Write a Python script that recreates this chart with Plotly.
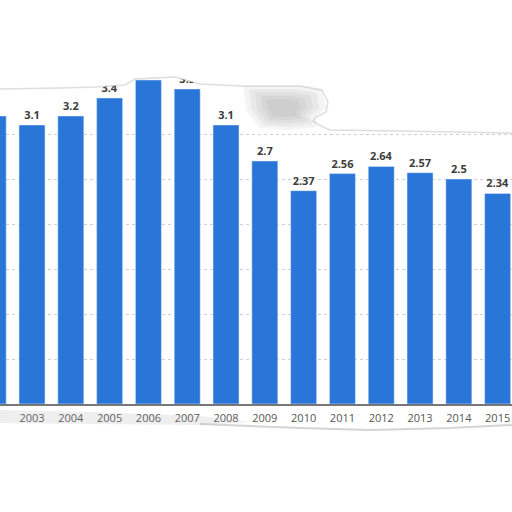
import plotly.graph_objects as go

years = list(range(2002, 2016))
values = [3.2, 3.1, 3.2, 3.4, 3.6, 3.5, 3.1, 2.7, 2.37, 2.56, 2.64, 2.57, 2.5, 2.34]
labels = ["3.2", "3.1", "3.2", "3.4", "3.6", "3.5", "3.1", "2.7", "2.37", "2.56", "2.64", "2.57", "2.5", "2.34"]
grid_vals = [0.5, 1.0, 1.5, 2.0, 2.5, 3.0]

W, H = 512, 512
B = 108
PH = H - B  # plot height in px


def px(x):
    return x / W


def py(y):
    return 1 - y / PH


def path(pts, close=True):
    s = "M " + " L ".join(f"{px(a):.4f},{py(b):.4f}" for a, b in pts)
    return s + (" Z" if close else "")


fig = go.Figure(go.Bar(
    x=years, y=values, text=labels, textposition="outside",
    width=0.67, marker_color="#2a76d8",
    textfont=dict(family="Open Sans, Arial", size=11, color="#3c3c3c", weight="bold"),
    cliponaxis=False,
))

# torn paper edge along the top
edge_left = [(0, 89), (60, 88), (95, 87), (125, 85), (135, 79), (175, 77),
             (200, 84), (243, 86), (300, 86), (322, 90), (328, 102), (326, 112),
             (316, 117), (313, 121), (321, 126), (330, 130), (400, 131), (512, 133)]
cover = [(0, -5)] + edge_left[:8] + [(246, 128)] + edge_left[14:] + [(512, -5)]
shapes = [
    dict(type="path", xref="paper", yref="paper", layer="above",
         path=path(cover), fillcolor="white", line=dict(width=0)),
    dict(type="path", xref="paper", yref="paper", layer="above",
         path=path(edge_left, close=False),
         line=dict(color="rgba(160,160,160,0.35)", width=1.5)),
]
# soft grey smudge, stacked to fake a blur
cx, cy = 283, 108
blob = [(243, 86), (300, 86), (322, 90), (326, 108), (314, 118), (318, 127),
        (290, 130), (260, 128), (246, 110)]
for s in [1.0, 0.85, 0.7, 0.55, 0.4]:
    pts = [(cx + (a - cx) * s, cy + (b - cy) * s) for a, b in blob]
    shapes.append(dict(type="path", xref="paper", yref="paper", layer="above",
                       path=path(pts), fillcolor="rgba(120,120,120,0.08)",
                       line=dict(width=0)))
shapes += [
    # bottom torn edge shadow
    dict(type="path", xref="paper", yref="paper", layer="above",
         path=path([(0, 410), (90, 412), (200, 416), (250, 422), (200, 425),
                    (90, 424), (0, 423)]),
         fillcolor="rgba(160,160,160,0.18)", line=dict(width=0)),
    dict(type="path", xref="paper", yref="paper", layer="above",
         path=path([(200, 424), (300, 428), (370, 430), (450, 428), (512, 425)], close=False),
         line=dict(color="rgba(150,150,150,0.4)", width=2)),
]

fig.update_layout(
    width=W, height=H,
    margin=dict(l=0, r=0, t=0, b=B),
    plot_bgcolor="white", paper_bgcolor="white",
    showlegend=False, shapes=shapes,
    xaxis=dict(range=[2002.175, 2015.37], tickmode="array", tickvals=years,
               ticktext=[str(y) for y in years], showgrid=False,
               showline=True, linecolor="#777", linewidth=1.5,
               tickfont=dict(family="Open Sans, Arial", size=11, color="#555"),
               ticks="outside", ticklen=3, tickcolor="rgba(0,0,0,0)"),
    yaxis=dict(range=[0, PH / 90], tickmode="array", tickvals=grid_vals,
               showgrid=True, gridcolor="#cfcfcf",
               griddash="dot", gridwidth=1, zeroline=False, showticklabels=False),
)

fig.write_html("out.html", config={"displayModeBar": False},
               post_script="document.body.style.margin='0';")
